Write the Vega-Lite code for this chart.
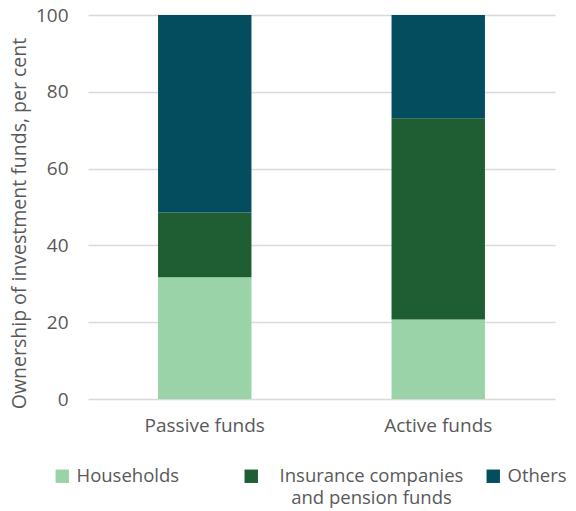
{
  "$schema": "https://vega.github.io/schema/vega-lite/v6.json",
  "autosize": {"type": "none"},
  "width": 467,
  "height": 384,
  "padding": {"left": 88, "top": 15, "right": 21, "bottom": 112},
  "background": "white",
  "config": {
    "font": "Open Sans",
    "view": {"stroke": null},
    "axis": {"labelFont": "Open Sans", "titleFont": "Open Sans", "labelColor": "#595959", "titleColor": "#595959", "labelFontSize": 19, "titleFontSize": 19.5, "titleFontWeight": "normal"}
  },
  "data": {
    "values": [
      {"fund": "Passive funds", "owner": "Households", "order": 1, "value": 31.7},
      {"fund": "Passive funds", "owner": "Insurance companies and pension funds", "order": 2, "value": 16.9},
      {"fund": "Passive funds", "owner": "Others", "order": 3, "value": 51.4},
      {"fund": "Active funds", "owner": "Households", "order": 1, "value": 20.7},
      {"fund": "Active funds", "owner": "Insurance companies and pension funds", "order": 2, "value": 52.4},
      {"fund": "Active funds", "owner": "Others", "order": 3, "value": 26.9}
    ]
  },
  "mark": {"type": "bar"},
  "encoding": {
    "x": {
      "field": "fund", "type": "nominal", "sort": ["Passive funds", "Active funds"],
      "scale": {"paddingInner": 0.6, "paddingOuter": 0.3},
      "axis": {"title": null, "labelAngle": 0, "domain": false, "ticks": false, "labelPadding": 17}
    },
    "y": {
      "field": "value", "type": "quantitative", "stack": "zero",
      "scale": {"domain": [0, 100]},
      "axis": {"title": "Ownership of investment funds, per cent", "titleY": 208, "values": [0, 20, 40, 60, 80, 100], "domain": false, "ticks": false, "labelPadding": 20, "titlePadding": 6, "gridColor": "#d9d9d9", "gridWidth": 1.3}
    },
    "order": {"field": "order", "type": "quantitative"},
    "color": {
      "field": "owner", "type": "nominal",
      "scale": {"domain": ["Households", "Insurance companies and pension funds", "Others"], "range": ["#9BD3A9", "#1F5E32", "#034D5E"]},
      "legend": {
        "title": null, "orient": "none", "legendX": -35, "legendY": 452, "direction": "horizontal", "columns": 3, "gridAlign": "none", "columnPadding": 20,
        "symbolType": "square", "symbolSize": 180, "symbolStrokeWidth": 0, "symbolOpacity": 1,
        "labelFont": "Open Sans", "labelFontSize": 18.5, "labelColor": "#595959", "labelOffset": 5, "labelBaseline": "middle", "labelLimit": 300,
        "labelExpr": "datum.label == 'Insurance companies and pension funds' ? ['Insurance companies', 'and pension funds'] : datum.label == 'Households' ? 'Households⠀⠀⠀' : datum.label",
        "encode": {
          "labels": {
            "update": {
              "align": {"signal": "datum.value == 'Insurance companies and pension funds' ? 'center' : 'left'"},
              "dx": {"signal": "datum.value == 'Insurance companies and pension funds' ? 106 : 0"},
              "lineHeight": {"value": 22}
            }
          }
        }
      }
    }
  }
}
